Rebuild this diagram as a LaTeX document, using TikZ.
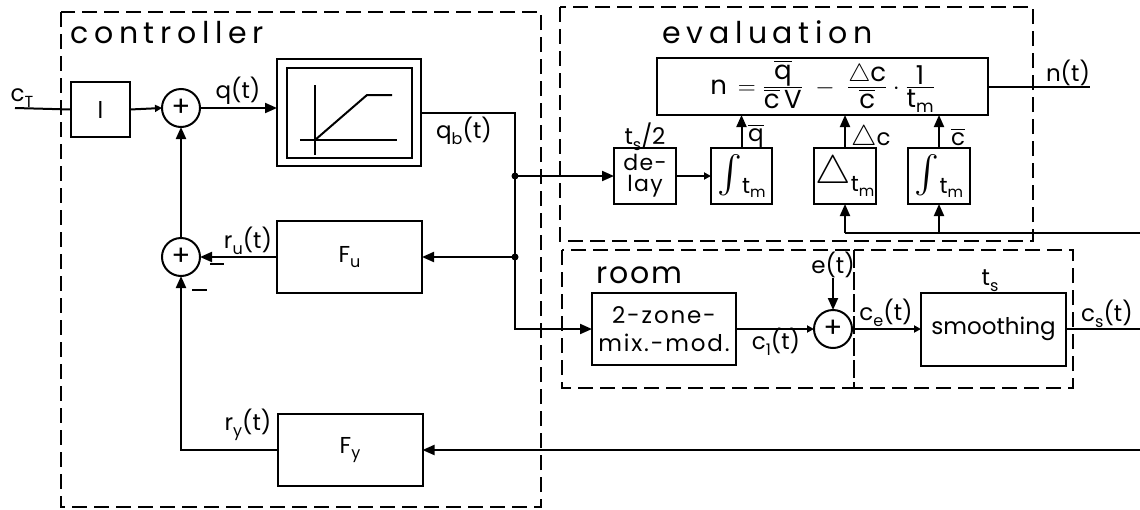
\documentclass[tikz,border=0pt]{standalone}
\usepackage{amsmath}
\usepackage{graphicx}
\usepackage{fontspec}
\setmainfont{Poppins}
\usetikzlibrary{arrows.meta}
\newcommand\ttlfont{\fontsize{30}{32}\selectfont\addfontfeatures{LetterSpace=19}}
\newcommand\lblfont{\fontsize{23}{25}\selectfont}
\newcommand\boxfont{\fontsize{23}{26}\selectfont}
\newcommand\frmfont{\fontsize{26}{28}\selectfont}
\newcommand\ffr[2]{{\textstyle\frac{\hbox{#1}}{\hbox{#2}}}}
\newcommand\ovl[1]{$\overline{\hbox{#1}}$}
\newcommand\sbs[1]{\raisebox{-0.45ex}{\fontsize{16}{17}\selectfont #1}}
\newcommand\tmsub{\raisebox{-0.7ex}{\fontsize{22}{24}\selectfont t\raisebox{-0.4ex}{\fontsize{15}{16}\selectfont m}}}
\begin{document}
\begin{tikzpicture}[x=1pt,y=-1pt,
  blk/.style={draw,line width=2pt,inner sep=0pt,outer sep=0pt,align=center,font=\boxfont},
  sumn/.style={draw,circle,line width=2pt,minimum size=38pt,inner sep=0pt,outer sep=0pt,font=\fontsize{28}{28}\selectfont},
  conn/.style={line width=2pt},
  arr/.style={line width=2pt,-{Triangle[length=12pt,width=10pt]}},
  sarr/.style={line width=2pt,-{Triangle[length=7pt,width=7pt]}},
  grp/.style={draw,line width=2pt,dash pattern=on 15pt off 7pt},
  lbl/.style={font=\lblfont,inner sep=0pt},
  ttl/.style={font=\ttlfont,inner sep=0pt,anchor=base west},
  dot/.style={circle,fill,inner sep=0pt,minimum size=7pt}]
\useasboundingbox (0,0) rectangle (1140,509);
% group boxes
\draw[grp] (61,12) rectangle (541,507);
\draw[grp] (560,7) rectangle (1033,241);
\draw[grp] (562,250) rectangle (854,388);
\draw[grp] (854,250) rectangle (1073,388);
\node[ttl] (tctl) at (70,43) {controller};
\node[ttl] (teva) at (662,43) {evaluation};
\node[ttl,font=\fontsize{30}{32}\selectfont\addfontfeatures{LetterSpace=6}] (troom) at (596,283) {room};
% controller
\node[blk,minimum width=59pt,minimum height=55pt] (L) at (100.5,109.5) {l};
\node[sumn] (s1) at (181,108) {+};
\node[blk,minimum width=144pt,minimum height=107pt] (sat) at (349,112.5) {};
\draw[line width=2pt] (287,68) rectangle (412,158);
\draw[line width=2pt] (315,85) -- (315,155);
\draw[line width=2pt] (300,140) -- (397,140);
\draw[line width=2pt] (315,140) -- (367,95) -- (392,95);
\node[blk,minimum width=145pt,minimum height=72pt] (Fu) at (349.5,257) {F\sbs{u}};
\node[sumn] (s2) at (181,257) {+};
\node[blk,minimum width=145pt,minimum height=72pt] (Fy) at (350,450) {F\sbs{y}};
\coordinate (cin) at (15,108);
\coordinate (j1) at (515,176);
\coordinate (j2) at (515,257);
\coordinate (fyin) at (1140,450);
\node[lbl] (lct) at (22,98) {c\sbs{T}};
\draw[conn] (cin) -- (L.west);
\draw[sarr] (L.east) -- (s1.west);
\draw[arr] (s1.east) -- (s1.east -| sat.west);
\node[lbl] (lq) at (238,91) {q(t)};
\draw[conn] (sat.east) -- (sat.east -| j1) -- (j1);
\node[lbl] (lqb) at (464,131) {q\sbs{b}(t)};
\draw[conn] (j1) -- (j2);
\node[dot] at (j1) {};
\node[dot] at (j2) {};
\draw[arr] (j2) -- (Fu.east);
\draw[arr] (Fu.west) -- (s2.east);
\node[lbl] (lru) at (248,241) {r\sbs{u}(t)};
\draw[conn] (210,264) -- (224,264);
\draw[conn] (192,290) -- (207,290);
\draw[arr] (s2.north) -- (s1.south);
\draw[arr] (Fy.west) -| (s2.south);
\node[lbl] (lry) at (248,425) {r\sbs{y}(t)};
\draw[arr] (fyin) -- (Fy.east);
% evaluation
\node[blk,minimum width=331pt,minimum height=57pt,font=\frmfont] (frm) at (822.5,86.5)
 {$\hbox{n}\,=\ffr{\ovl{q}}{\ovl{c}\,V}\;-\;\ffr{$\triangle$c}{\ovl{c}}\cdot\ffr{\,1\,}{t\raisebox{-0.4ex}{\fontsize{17}{18}\selectfont m}}$};
\node[blk,minimum width=62pt,minimum height=56pt,font=\fontsize{22}{21}\selectfont\addfontfeatures{LetterSpace=6}] (dly) at (645,176) {de-\\lay};
\node[blk,minimum width=61pt,minimum height=56pt] (i1) at (741.5,176) {\scalebox{1.5}{$\int$}\tmsub};
\node[blk,minimum width=62pt,minimum height=56pt] (dl) at (845,176) {\scalebox{1.6}{$\triangle$}\tmsub};
\node[blk,minimum width=62pt,minimum height=56pt] (i2) at (939,176) {\scalebox{1.5}{$\int$}\tmsub};
\node[lbl] (lts2) at (645,137) {t\sbs{s}/2};
\draw[arr] (j1) -- (dly.west);
\draw[sarr] (dly.east) -- (i1.west);
\draw[arr] (i1.north) -- (i1.north |- frm.south);
\draw[arr] (dl.north) -- (dl.north |- frm.south);
\draw[arr] (i2.north) -- (i2.north |- frm.south);
\node[lbl,anchor=west] (lqbar) at (748,136) {$\overline{\text{q}}$};
\node[lbl,anchor=west] (ldc) at (851,138) {\scalebox{1.15}{$\triangle$}c};
\node[lbl,anchor=west] (lcbar) at (951,137) {$\overline{\text{c}}$};
\coordinate (ein) at (1140,233);
\draw[conn] (ein) -- (ein -| dl.south);
\draw[arr] (ein -| dl.south) -- (dl.south);
\draw[arr] (ein -| i2.south) -- (i2.south);
\coordinate (nout) at (1090,86.5);
\draw[conn] (frm.east) -- (nout);
\node[lbl] (ln) at (1068,73) {n(t)};
% room
\node[blk,minimum width=144pt,minimum height=72pt,font=\fontsize{23}{28}\selectfont\addfontfeatures{LetterSpace=8}] (tz) at (664,329) {2-zone-\\mix.-mod.};
\node[sumn] (s3) at (833,329) {+};
\node[blk,minimum width=145pt,minimum height=73pt] (sm) at (993.5,329) {smoothing};
\draw[arr] (j2) -- (j2 |- tz.west) -- (tz.west);
\draw[sarr] (tz.east) -- (s3.west);
\node[lbl] (lc1) at (776,342) {c\sbs{1}(t)};
\node[lbl] (le) at (833,265) {e(t)};
\draw[arr] (le.south) -- (s3.north);
\draw[sarr] (s3.east) -- (sm.west);
\node[lbl] (lce) at (886,313) {c\sbs{e}(t)};
\node[lbl] (lts) at (990,281) {t\sbs{s}};
\coordinate (csout) at (1140,329);
\draw[conn] (sm.east) -- (csout);
\node[lbl,anchor=west] (lcs) at (1081,314) {c\sbs{s}(t)};
\end{tikzpicture}
\end{document}
